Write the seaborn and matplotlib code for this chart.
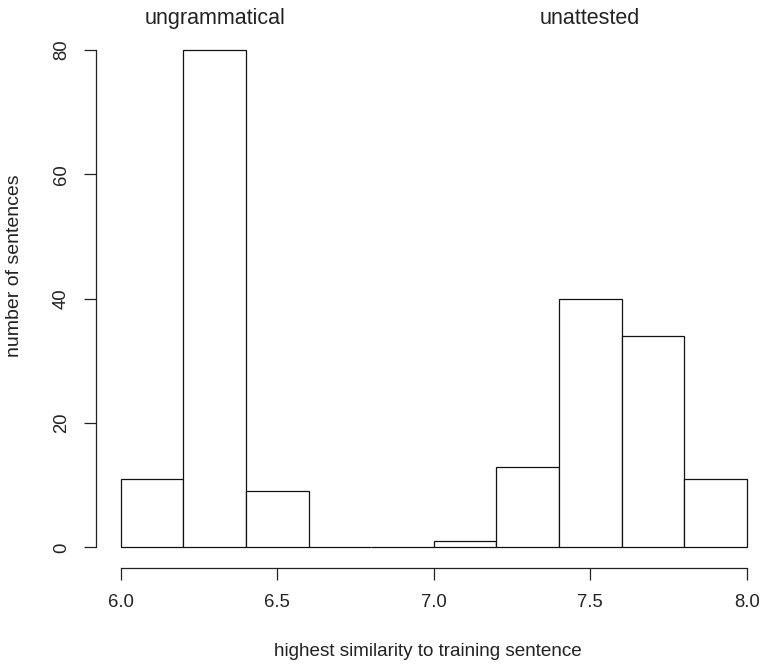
import numpy as np
import seaborn as sns
import matplotlib.pyplot as plt

# histogram counts
bin_edges = [6.0, 6.2, 6.4, 6.6, 6.8, 7.0, 7.2, 7.4, 7.6, 7.8, 8.0]
counts = [11, 80, 9, 0, 0, 1, 13, 40, 34, 11]
x_ticks = [6.0, 6.5, 7.0, 7.5, 8.0]
y_ticks = [0, 20, 40, 60, 80]
group_labels = ["ungrammatical", "unattested"]
group_pos = [6.3, 7.5]

sns.set_style("white")
plt.rcParams['font.family'] = ['Liberation Sans', 'DejaVu Sans']

centers = [(a + b) / 2 for a, b in zip(bin_edges[:-1], bin_edges[1:])]

fig = plt.figure(figsize=(7.62, 6.65), dpi=100)
ax = fig.add_axes([95.7 / 762, 97 / 665, (762 - 95.7) / 762, 538 / 665])

sns.histplot(x=centers, weights=counts, bins=bin_edges, ax=ax,
             color="white", edgecolor="#111111", linewidth=0.9, alpha=1)

ax.set_xlim(6.0 - 25 / 313, 6.0 + (762 - 120.7) / 313)
ax.set_ylim(-3.3, 83.2)

for s in ["top", "right"]:
    ax.spines[s].set_visible(False)
ax.spines["left"].set_bounds(0, 80)
ax.spines["bottom"].set_bounds(6.0, 8.0)
for s in ["left", "bottom"]:
    ax.spines[s].set_linewidth(0.9)
    ax.spines[s].set_color("#222222")

ax.set_xticks(x_ticks)
ax.set_xticklabels([f"{t:.1f}" for t in x_ticks])
ax.set_yticks(y_ticks)
ax.set_yticklabels([str(t) for t in y_ticks], rotation=90, va="center")
ax.tick_params(axis="both", direction="out", length=8.6, width=0.9,
               color="#222222", labelsize=13.3, labelcolor="#222222",
               left=True, bottom=True)
ax.tick_params(axis="x", pad=10)
ax.tick_params(axis="y", pad=10)

ax.set_xlabel("")
ax.set_ylabel("")
fig.text(428 / 762, 1 - 651 / 665, "highest similarity to training sentence",
         ha="center", va="center", fontsize=13.6, color="#222222")
fig.text(15 / 762, 1 - 266 / 665, "number of sentences", rotation=90,
         ha="center", va="center", fontsize=14, color="#222222")

for lab, xp in zip(group_labels, group_pos):
    ax.text(xp, 85.1, lab, ha="center", va="center", fontsize=15.5,
            color="#222222", clip_on=False)

fig.savefig("out.png", dpi=100)
